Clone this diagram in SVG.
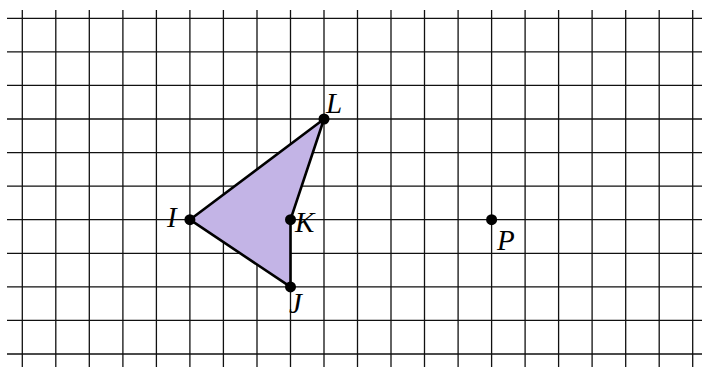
<svg xmlns="http://www.w3.org/2000/svg" width="702" height="367" viewBox="0 0 702 367">
<style>
.g{stroke:#111;stroke-width:1.3;fill:none}
.lbl{font-family:"Liberation Serif","DejaVu Serif",serif;font-style:italic;font-size:29px;fill:#000}
.dot{fill:#000}
</style>
<rect width="702" height="367" fill="#fff"/>
<g id="grid" class="g">
<path d="M22.3 10V367M55.8 10V367M89.3 10V367M122.9 10V367M156.4 10V367M189.9 10V367M223.4 10V367M257 10V367M290.5 10V367M324 10V367M357.5 10V367M391 10V367M424.5 10V367M458.1 10V367M491.6 10V367M525.1 10V367M558.6 10V367M592.1 10V367M625.7 10V367M659.2 10V367M692.7 10V367"/>
<path d="M7 18.3H702M7 51.9H702M7 85.4H702M7 119H702M7 152.6H702M7 186.2H702M7 219.7H702M7 253.3H702M7 286.9H702M7 320.4H702M7 354H702"/>
</g>
<g id="triangle">
<polygon points="189.9,219.7 324,119 290.5,219.7 290.5,286.9" fill="#c3b4e6" stroke="#000" stroke-width="2.6" stroke-linejoin="round"/>
</g>
<g id="node-L"><circle class="dot" cx="324" cy="119" r="5.5"/><text class="lbl" x="326" y="113">L</text></g>
<g id="node-I"><circle class="dot" cx="189.9" cy="219.7" r="5.5"/><text class="lbl" x="167" y="227">I</text></g>
<g id="node-K"><circle class="dot" cx="290.5" cy="219.7" r="5.5"/><text class="lbl" x="295" y="232">K</text></g>
<g id="node-J"><circle class="dot" cx="290.5" cy="286.9" r="5.5"/><text class="lbl" x="289" y="313">J</text></g>
<g id="node-P"><circle class="dot" cx="491.6" cy="219.7" r="5.5"/><text class="lbl" x="497" y="250">P</text></g>
</svg>
